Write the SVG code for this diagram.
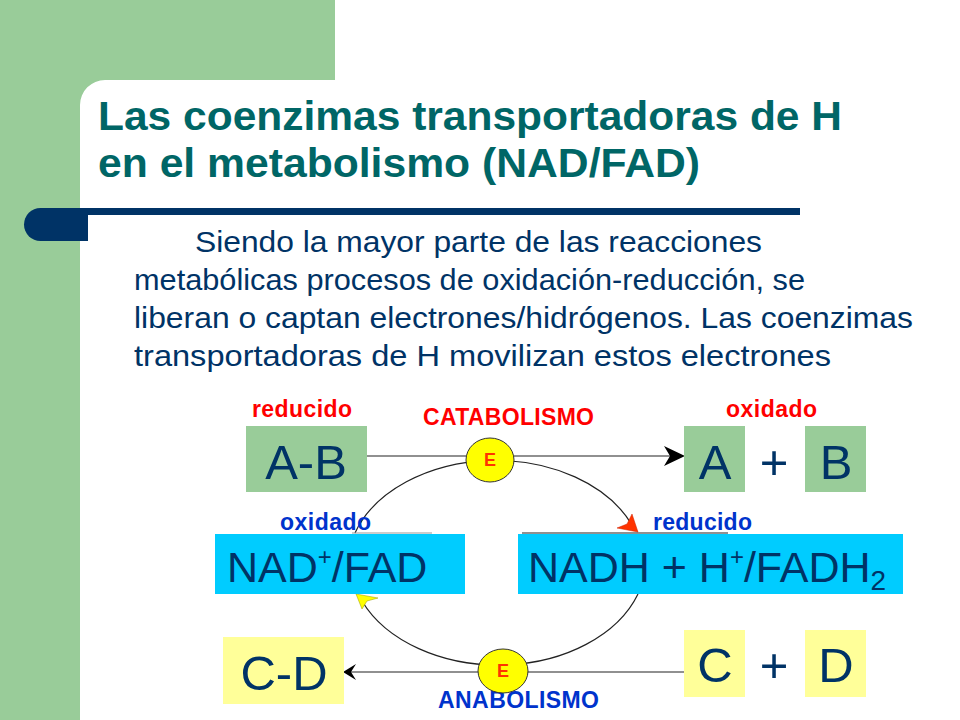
<svg xmlns="http://www.w3.org/2000/svg" width="960" height="720" viewBox="0 0 960 720">
<defs>
<style>
.title{font-family:"Liberation Sans",Arial,sans-serif;font-weight:bold;font-size:40px;fill:#006666}
.body{font-family:"Liberation Sans",Arial,sans-serif;font-size:30px;fill:#003366}
.lbl{font-family:"Liberation Sans",Arial,sans-serif;font-weight:bold;font-size:23px}
.red{fill:#ff0000}
.blue{fill:#0033cc}
.big{font-family:"Liberation Sans",Arial,sans-serif;font-size:49px;fill:#003366;text-anchor:middle}
.mid{font-family:"Liberation Sans",Arial,sans-serif;font-size:43px;fill:#003366}
.green{fill:#99cc99}
.cyan{fill:#00ccff}
.yel{fill:#ffff99}
.enz{fill:#ffff00;stroke:#333333;stroke-width:1}
.etxt{font-family:"Liberation Sans",Arial,sans-serif;font-weight:bold;font-size:18px;fill:#ff3300;text-anchor:middle}
.ln{fill:none;stroke:#222222;stroke-width:1.2}
</style>
</defs>
<rect width="960" height="720" fill="#ffffff"/>
<g id="background">
<path d="M0,0 H335 V80 H105 A25,25 0 0 0 80,105 V720 H0 Z" fill="#99cc99"/>
<rect x="80" y="208" width="720" height="7" fill="#003366"/>
<path d="M88,208 V241 H40.5 A16.5,16.5 0 0 1 40.5,208 Z" fill="#003366"/>
</g>
<g id="title">
<text class="title" x="98" y="130" textLength="744" lengthAdjust="spacingAndGlyphs">Las coenzimas transportadoras de H</text>
<text class="title" x="98" y="177" textLength="602" lengthAdjust="spacingAndGlyphs">en el metabolismo (NAD/FAD)</text>
</g>
<g id="body">
<text class="body" x="195" y="252" textLength="567" lengthAdjust="spacingAndGlyphs">Siendo la mayor parte de las reacciones</text>
<text class="body" x="134" y="290" textLength="671" lengthAdjust="spacingAndGlyphs">metabólicas procesos de oxidación-reducción, se</text>
<text class="body" x="134" y="328" textLength="779" lengthAdjust="spacingAndGlyphs">liberan o captan electrones/hidrógenos. Las coenzimas</text>
<text class="body" x="134" y="366" textLength="697" lengthAdjust="spacingAndGlyphs">transportadoras de H movilizan estos electrones</text>
</g>
<g id="connectors">
<line class="ln" x1="367" y1="456" x2="670" y2="456"/>
<polygon points="685,456 664,446 670,456 664,466" fill="#000000"/>
<line class="ln" x1="684" y1="672" x2="350" y2="672"/>
<polygon points="343,672 356,664 351,672 356,680" fill="#000000"/>
<path class="ln" d="M355,533 A148,105.5 0 0 1 632,525"/>
<polygon points="638,532 617,528 627,524 632,514" fill="#ff3300" stroke="#cc2200" stroke-width="0.5"/>
<path class="ln" d="M638,594 A148,105.5 0 0 1 362,601"/>
<polygon points="356,594 378,598 367,601 362,609" fill="#ffff00" stroke="#999900" stroke-width="0.5"/>
<line x1="522" y1="533" x2="728" y2="533" stroke="#222222" stroke-width="1.2"/>
<line x1="352" y1="533" x2="432" y2="533" stroke="#999999" stroke-width="1"/>
</g>
<g id="labels">
<text class="lbl red" x="252" y="417" textLength="100" lengthAdjust="spacing">reducido</text>
<text class="lbl red" x="423" y="425" textLength="171" lengthAdjust="spacing">CATABOLISMO</text>
<text class="lbl red" x="726" y="417" textLength="91" lengthAdjust="spacing">oxidado</text>
<text class="lbl blue" x="280" y="530" textLength="91" lengthAdjust="spacing">oxidado</text>
<text class="lbl blue" x="653" y="530" textLength="99" lengthAdjust="spacing">reducido</text>
<text class="lbl blue" x="438" y="708" textLength="161" lengthAdjust="spacing">ANABOLISMO</text>
</g>
<g id="node-AB">
<rect class="green" x="246" y="426" width="121" height="66"/>
<text class="big" x="306" y="479">A-B</text>
</g>
<g id="node-A">
<rect class="green" x="684" y="426" width="61" height="66"/>
<text class="big" x="715" y="479">A</text>
</g>
<text class="big" x="774" y="479">+</text>
<g id="node-B">
<rect class="green" x="805" y="426" width="61" height="66"/>
<text class="big" x="836" y="479">B</text>
</g>
<g id="node-NAD">
<rect class="cyan" x="215" y="534" width="250" height="60"/>
<text class="mid" x="227" y="582">NAD<tspan font-size="24" dy="-17">+</tspan><tspan dy="17">/FAD</tspan></text>
</g>
<g id="node-NADH">
<rect class="cyan" x="518" y="534" width="385" height="60"/>
<text class="mid" x="528" y="582">NADH + H<tspan font-size="24" dy="-17">+</tspan><tspan dy="17">/FADH</tspan><tspan font-size="28" dy="8">2</tspan></text>
</g>
<g id="node-CD">
<rect class="yel" x="223" y="637" width="121" height="67"/>
<text class="big" x="284" y="690">C-D</text>
</g>
<g id="node-C">
<rect class="yel" x="684" y="630" width="61" height="67"/>
<text class="big" x="715" y="682">C</text>
</g>
<text class="big" x="774" y="682">+</text>
<g id="node-D">
<rect class="yel" x="805" y="630" width="61" height="67"/>
<text class="big" x="836" y="682">D</text>
</g>
<g id="enzyme-top">
<ellipse class="enz" cx="490" cy="460" rx="24" ry="22"/>
<text class="etxt" x="490" y="466">E</text>
</g>
<g id="enzyme-bottom">
<ellipse class="enz" cx="503" cy="671" rx="25" ry="22"/>
<text class="etxt" x="503" y="677">E</text>
</g>
</svg>
